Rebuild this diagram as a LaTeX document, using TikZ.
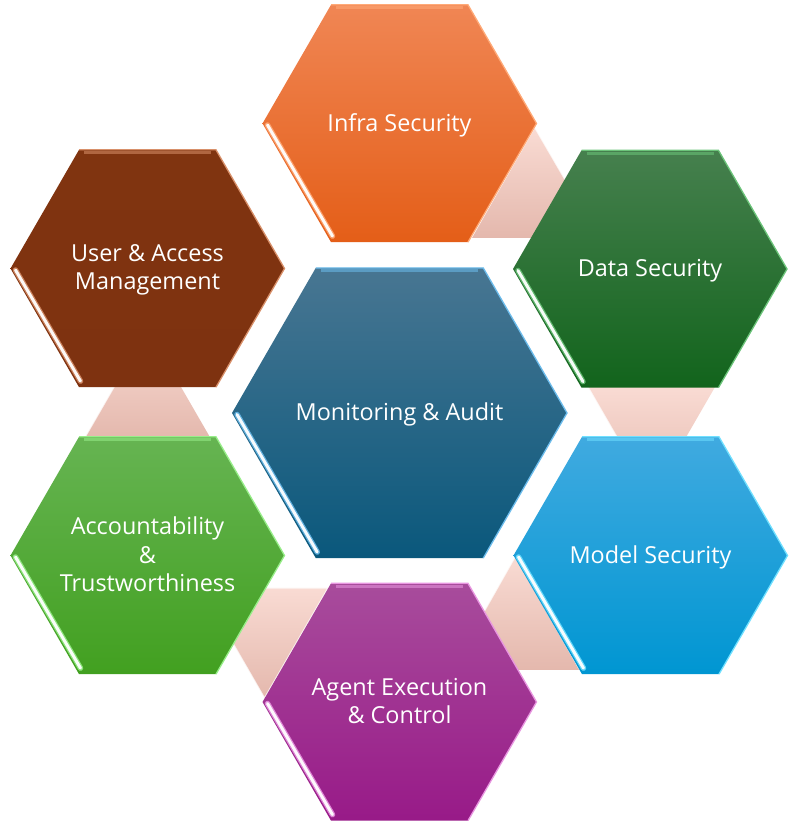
\documentclass[tikz,border=0pt]{standalone}
\usepackage{fontspec}
\setmainfont{Open Sans}
\definecolor{tritop}{HTML}{F9DBD3}
\definecolor{tribot}{HTML}{E4B8AD}
\definecolor{infraT}{HTML}{F08654}
\definecolor{infraB}{HTML}{E45E18}
\definecolor{infraE}{HTML}{FFAA78}
\definecolor{dataT}{HTML}{46804E}
\definecolor{dataB}{HTML}{12641C}
\definecolor{dataE}{HTML}{6CC47A}
\definecolor{modelT}{HTML}{40AAE0}
\definecolor{modelB}{HTML}{0096D2}
\definecolor{modelE}{HTML}{70E0FF}
\definecolor{agentT}{HTML}{A84C9C}
\definecolor{agentB}{HTML}{981A88}
\definecolor{agentE}{HTML}{E896E0}
\definecolor{accT}{HTML}{66B452}
\definecolor{accB}{HTML}{42A020}
\definecolor{accE}{HTML}{98EE8A}
\definecolor{userT}{HTML}{803410}
\definecolor{userB}{HTML}{7E3210}
\definecolor{userE}{HTML}{D8906A}
\definecolor{monT}{HTML}{487692}
\definecolor{monB}{HTML}{0A587C}
\definecolor{monE}{HTML}{6CBCEC}
\tikzset{
  txt/.style={text=white,align=center,font=\fontsize{23.5}{28.5}\selectfont,inner sep=0pt,text depth=5.5bp},
  tri/.style={top color=tritop,bottom color=tribot},
  triedge/.style={white,line width=1.3,opacity=0.75},
}
\newcommand\hexa[8]{%
  \begin{scope}
  \pgfmathsetmacro\hxX{#2}
  \pgfmathsetmacro\hxY{829-#3}
  \pgfmathsetmacro\hxR{#4}
  \pgfmathsetmacro\hxH{#4*0.8660254}
  \pgfmathsetmacro\hxW{#4/2}
  \path[top color=#5,bottom color=#6]
    (\hxX-\hxR,\hxY) -- (\hxX-\hxW,\hxY+\hxH) -- (\hxX+\hxW,\hxY+\hxH) --
    (\hxX+\hxR,\hxY) -- (\hxX+\hxW,\hxY-\hxH) -- (\hxX-\hxW,\hxY-\hxH) -- cycle;
  \draw[#7,line width=1.3,line join=miter]
    (\hxX-\hxW,\hxY+\hxH) -- (\hxX+\hxW,\hxY+\hxH) -- (\hxX+\hxR,\hxY) -- (\hxX+\hxW,\hxY-\hxH);
  \draw[#7,line width=3,opacity=0.55]
    (\hxX-\hxW+5,\hxY+\hxH-2.8) -- (\hxX+\hxW-5,\hxY+\hxH-2.8);
  \draw[#7,line width=5.5,opacity=0.85,line cap=round]
    (\hxX-\hxR+5,\hxY-1.5) -- (\hxX-\hxW+1.5,\hxY-\hxH+6);
  \draw[white,line width=3,opacity=0.95,line cap=round]
    (\hxX-\hxR+5,\hxY-1.5) -- (\hxX-\hxW+1.5,\hxY-\hxH+6);
  \node[txt] (#1) at (\hxX,\hxY-1.5) {#8};
  \end{scope}}
\begin{document}
\begin{tikzpicture}[x=1bp,y=1bp]
\useasboundingbox (0,0) rectangle (795,829);
\fill[white] (0,0) rectangle (795,829);
% connector triangles
\path[tri] (535,701) -- (599,591) -- (472,591) -- cycle;
\draw[triedge] (535,701) -- (599,591);
\path[tri] (588,442) -- (715,442) -- (651.5,332) -- cycle;
\draw[triedge] (588,442) -- (651.5,332);
\path[tri] (515,272) -- (579,159) -- (451,159) -- cycle;
\draw[triedge] (515,272) -- (451,159);
\path[tri] (201,241) -- (328,241) -- (264.5,131) -- cycle;
\draw[triedge] (201,241) -- (264.5,131) -- (328,241) -- cycle;
\path[tri] (147.5,500) -- (211,390) -- (84,390) -- cycle;
\draw[triedge] (147.5,500) -- (84,390);
% hexagons
\hexa{infra}{399.5}{123.5}{137}{infraT}{infraB}{infraE}{Infra Security}
\hexa{data}{650}{269}{137}{dataT}{dataB}{dataE}{Data Security}
\hexa{model}{650.5}{555.5}{137}{modelT}{modelB}{modelE}{Model Security}
\hexa{agent}{399.5}{702}{137}{agentT}{agentB}{agentE}{Agent Execution\\ \& Control}
\hexa{acc}{147.5}{555.5}{137}{accT}{accB}{accE}{Accountability\\ \&\\ Trustworthiness}
\hexa{user}{147.5}{268.5}{137}{userT}{userB}{userE}{User \& Access\\ Management}
\hexa{mon}{399.5}{413}{167.5}{monT}{monB}{monE}{Monitoring \& Audit}
\end{tikzpicture}
\end{document}
